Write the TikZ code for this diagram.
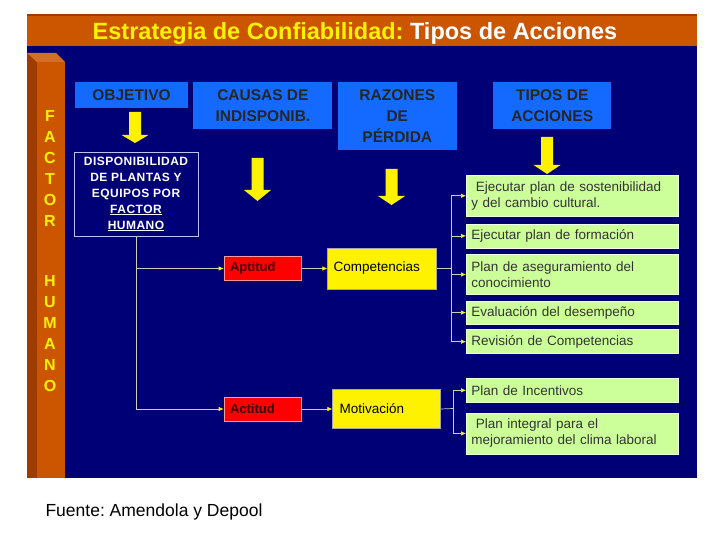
\documentclass[tikz,border=0pt]{standalone}
\usepackage{fontspec}
\setmainfont{Liberation Sans}
\usetikzlibrary{arrows.meta, positioning}
\definecolor{navy}{RGB}{0,0,118}
\definecolor{rust}{RGB}{204,85,0}
\definecolor{rustdark}{RGB}{158,60,0}
\definecolor{head}{RGB}{20,105,255}
\definecolor{lime}{RGB}{204,255,153}
\definecolor{wire}{RGB}{205,205,185}
\frenchspacing

\begin{document}
\begin{tikzpicture}[x=1pt, y=-1pt,
      hbox/.style={rectangle, fill=head, inner sep=0pt, text=black!85,
                   font=\fontsize{15.5}{21}\selectfont\bfseries, align=center},
      gbox/.style={rectangle, fill=lime, draw=white!70!lime, line width=0.6pt,
                   inner xsep=5pt, inner ysep=0pt, text width=202pt,
                   align=left, text=black!80, font=\fontsize{13.5}{16}\selectfont},
      rbox/.style={rectangle, fill=red, draw=red!40!white, line width=0.6pt,
                   minimum height=24pt, inner xsep=6pt, text width=65pt,
                   align=left, text=red!25!black, font=\fontsize{13}{15}\selectfont\bfseries},
      ybox/.style={rectangle, fill=yellow, draw=black!35, line width=0.5pt,
                   align=left, font=\fontsize{13.5}{16}\selectfont},
      letters/.style={text=yellow, align=center, font=\fontsize{16}{21}\selectfont\bfseries},
      wired/.style={draw=wire, line width=0.7pt},
      arr/.style={-{Latex[length=5pt, width=4.5pt, color=yellow]}, wired}
    ]
    % page and panels
    \fill[white] (0,0) rectangle (720,540);
    \fill[navy] (27,46) rectangle (697,478);
    \fill[rust] (27,14) rectangle (697,46);
    \fill[rustdark] (27,14) rectangle (697,16.5);
    \fill[rustdark] (27,53) rectangle (37,478);
    \fill[rust] (37,62) rectangle (65,478);
    \fill[rust!85!white] (27,53) -- (56,53) -- (65,62) -- (37,62) -- cycle;

    \node[text=white, font=\fontsize{23.5}{26}\selectfont\bfseries] (ttl) at (355,33)
      {\textcolor{yellow}{Estrategia de Confiabilidad:} Tipos de Acciones};

    \node[letters] (fac) at (50,168) {F\\A\\C\\T\\O\\R};
    \node[letters] (hum) at (50,334) {H\\U\\M\\A\\N\\O};

    % column heads
    \node[hbox, minimum width=113pt, minimum height=26pt] (obj) at (131.5,95) {OBJETIVO};
    \node[hbox, minimum width=139pt, minimum height=47pt, anchor=north west] (cau)
      at ([xshift=5pt]obj.north east) {CAUSAS DE\\INDISPONIB.};
    \node[hbox, minimum width=119pt, minimum height=68pt, anchor=north west] (raz)
      at ([xshift=5pt]cau.north east) {RAZONES\\DE\\PÉRDIDA};
    \node[hbox, minimum width=118pt, minimum height=47pt, anchor=north west] (tip)
      at ([xshift=36pt]raz.north east) {TIPOS DE\\ACCIONES};

    % yellow arrows
    \foreach \x/\a/\b/\c in {135/112/135/143, 257.5/158/190/201, 391.5/169/196/205, 547/137/165/174}
      \fill[yellow] (\x-6,\a) -- (\x+6,\a) -- (\x+6,\b) -- (\x+13.5,\b) -- (\x,\c)
        -- (\x-13.5,\b) -- (\x-6,\b) -- cycle;

    \node[draw=blue!25!white, line width=0.6pt, minimum width=124pt, minimum height=84pt,
          text=white, align=center, font=\fontsize{12}{16}\selectfont\bfseries\addfontfeatures{LetterSpace=4}]
      (disp) at (136,194) {DISPONIBILIDAD\\DE PLANTAS Y\\EQUIPOS POR\\\underline{FACTOR}\\\underline{HUMANO}};

    \node[rbox] (apt) at (262.5,268.5) {Aptitud};
    \node[rbox] (act) at (262.5,409) {Actitud};
    \node[ybox, minimum height=41pt, inner xsep=6pt, text width=97pt, right=26pt of apt] (comp) {Competencias};
    \node[ybox, minimum height=39pt, inner xsep=7pt, text width=94pt, right=31pt of act] (mot) {Motivación};

    % actions
    \node[gbox, minimum height=41pt, anchor=north west] (g1) at (466,175)
      {\ Ejecutar plan de sostenibilidad\\y del cambio cultural.};
    \node[gbox, minimum height=24pt, below=7pt of g1] (g2) {Ejecutar plan de formación};
    \node[gbox, minimum height=40pt, below=6pt of g2] (g3) {Plan de aseguramiento del\\conocimiento};
    \node[gbox, minimum height=23pt, below=6pt of g3] (g4) {Evaluación del desempeño};
    \node[gbox, minimum height=24pt, below=5pt of g4] (g5) {Revisión de Competencias};
    \node[gbox, minimum height=24pt, anchor=north west] (g6) at (466,378) {Plan de Incentivos};
    \node[gbox, minimum height=41pt, below=10pt of g6] (g7)
      {\ Plan integral para el\\mejoramiento del clima laboral};

    % connectors
    \draw[arr] (disp.south) |- (apt.west);
    \draw[arr] (disp.south) |- (act.west);
    \draw[arr] (apt) -- (comp);
    \draw[arr] (act) -- (mot);
    \coordinate (cb) at (451,268.5);
    \coordinate (mb) at (453,408.5);
    \draw[wired] (comp.east) -- (cb);
    \draw[wired] (mot.east) -- (mb);
    \foreach \g in {g1,g2,g3,g4,g5}
      \draw[arr] (cb) |- (\g.west);
    \foreach \g in {g6,g7}
      \draw[arr] (mb) |- (\g.west);

    \node[anchor=west, font=\fontsize{17.5}{20}\selectfont] (src) at (42,512) {Fuente: Amendola y Depool};
  \end{tikzpicture}
\end{document}
